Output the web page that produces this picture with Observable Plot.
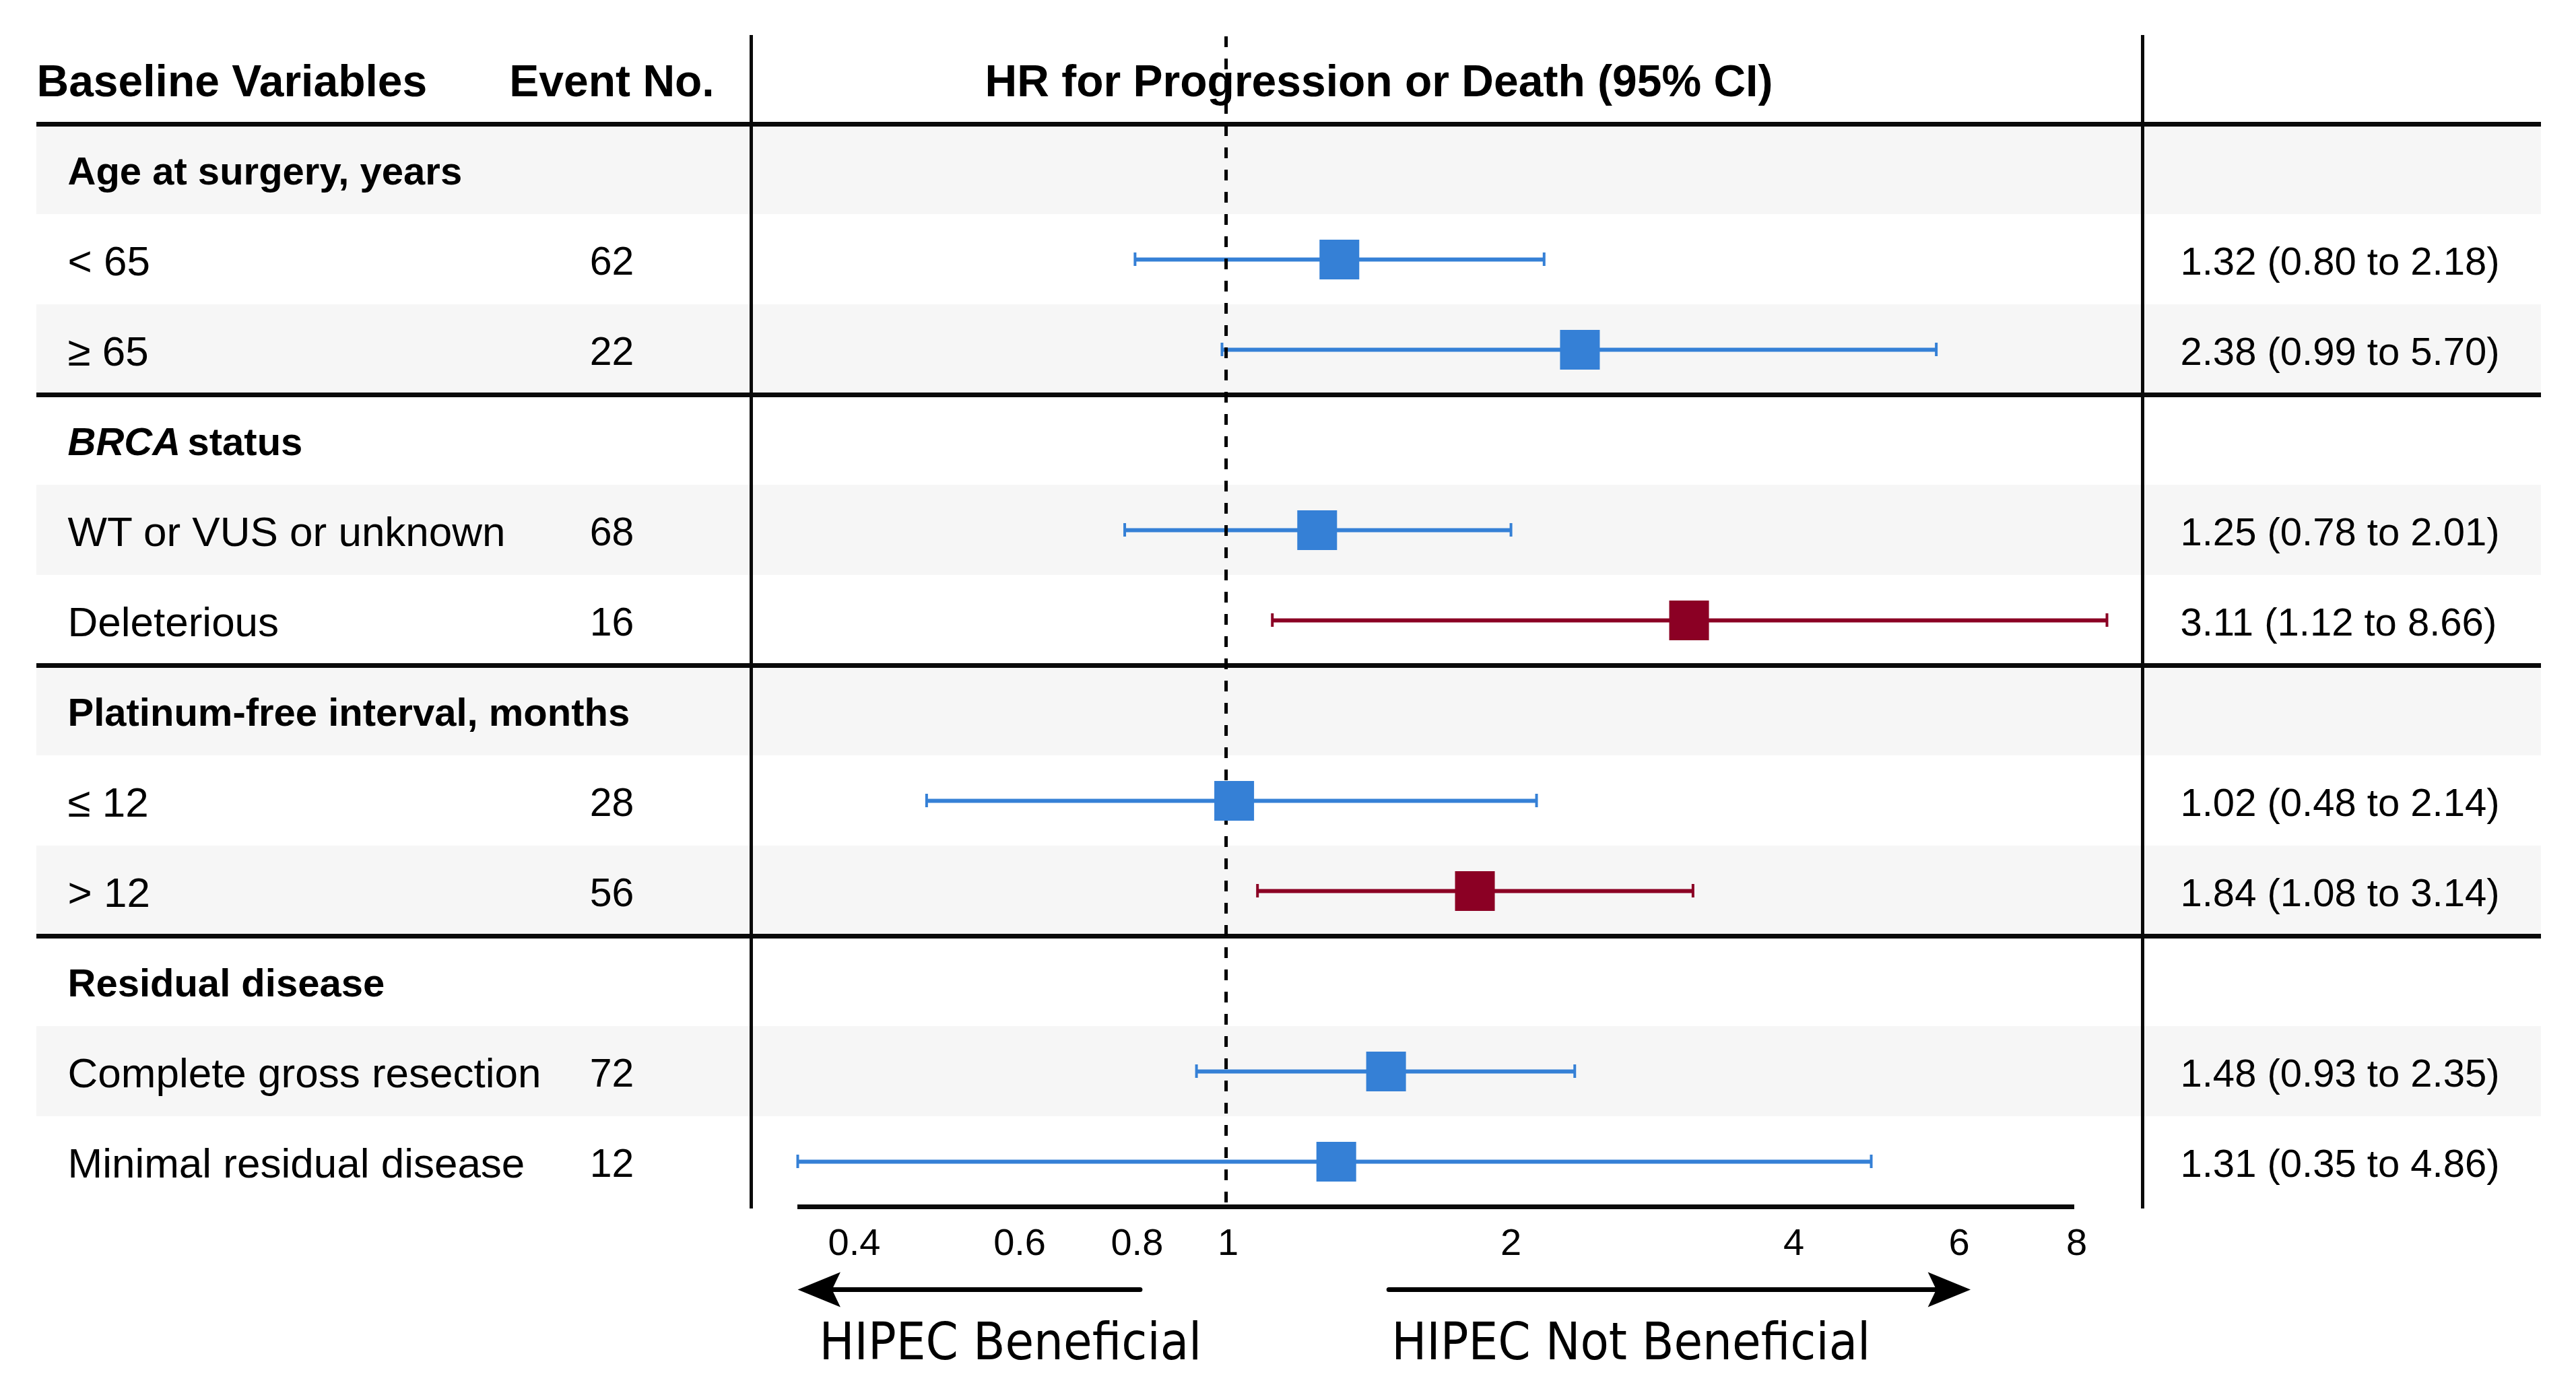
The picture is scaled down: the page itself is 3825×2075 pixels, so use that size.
<!DOCTYPE html>
<html>
<head>
<meta charset="utf-8">
<script src="https://cdn.jsdelivr.net/npm/d3@7"></script>
<script src="https://cdn.jsdelivr.net/npm/@observablehq/plot@0.6"></script>
<style>
  html, body { margin: 0; padding: 0; background: #fff; }
  #chart { width: 3825px; height: 2075px; }
  #chart svg { display: block; }
</style>
</head>
<body>
<div id="chart"></div>
<script>
// ---------------- data ----------------
const columnHeaders = ["Baseline Variables", "Event No.", "HR for Progression or Death (95% CI)"];
const sections = ["Age at surgery, years", "BRCA status", "Platinum-free interval, months", "Residual disease"];
const italicPrefix = {"BRCA status": "BRCA"};
const subgroups = ["< 65", "≥ 65", "WT or VUS or unknown", "Deleterious", "≤ 12", "> 12", "Complete gross resection", "Minimal residual disease"];
const subgroupSection = [0, 0, 1, 1, 2, 2, 3, 3];
const events = [62, 22, 68, 16, 28, 56, 72, 12];
const hr     = [1.32, 2.38, 1.25, 3.11, 1.02, 1.84, 1.48, 1.31];
const ciLow  = [0.80, 0.99, 0.78, 1.12, 0.48, 1.08, 0.93, 0.35];
const ciHigh = [2.18, 5.70, 2.01, 8.66, 2.14, 3.14, 2.35, 4.86];
const xDomain = [0.35, 8];
const xTicks = [0.4, 0.6, 0.8, 1, 2, 4, 6, 8];
const nullEffect = [1];
const arrowLabels = ["HIPEC Beneficial", "HIPEC Not Beneficial"];
const arrowFrom = [0.81, 1.49];
const arrowTo   = [0.35, 6.2];

// ---------------- layout / style ----------------
const W = 3825;
const FONT = "'Liberation Sans', Arial, Helvetica, sans-serif";
const NARROW = "'Liberation Sans Narrow', 'Arial Narrow', 'DejaVu Sans Condensed', sans-serif";
const BLUE = "#3580d6", RED = "#8b0024", GRAY = "#f6f6f6", INK = "#0a0a0a";
const L = {
  tableLeft: 54, tableRight: 3773,
  panelLeft: 1115, panelRight: 3181,
  top: 54, rowsTop: 50, rowsBottom: 1792,
  xRange: [1184, 3080],
  mainHeight: 1880, footHeight: 195
};
const insetL = -(L.panelLeft - L.tableLeft);
const insetR = -(L.tableRight - L.panelRight);

// ---------------- table rows ----------------
const rows = [];
let idx = 1;
sections.forEach((s, si) => {
  rows.push({kind: "section", label: s, y: idx++});
  subgroups.forEach((g, gi) => {
    if (subgroupSection[gi] === si) {
      rows.push({kind: "sub", label: g, events: events[gi], hr: hr[gi], lo: ciLow[gi], hi: ciHigh[gi], y: idx++});
    }
  });
});
const nRows = idx;
const subRows = rows.filter(r => r.kind === "sub");
const secRows = rows.filter(r => r.kind === "section");
const grayRows = rows.filter(r => r.y % 2 === 1);
const separators = secRows.map(r => r.y);
const yc = d => d.y + 0.5;
const colorOf = d => d.lo > 1 ? RED : BLUE;
const fmt = v => v.toFixed(2);
const TDY = 4;

const main = Plot.plot({
  width: W,
  height: L.mainHeight,
  marginLeft: L.panelLeft,
  marginRight: W - L.panelRight,
  marginTop: L.top,
  marginBottom: L.mainHeight - L.rowsBottom,
  style: {fontFamily: FONT, fontSize: "56px", background: "white", color: "black"},
  x: {type: "log", domain: xDomain, range: L.xRange, axis: null},
  y: {type: "linear", domain: [0, nRows], range: [L.rowsTop, L.rowsBottom], axis: null},
  marks: [
    // zebra bands
    Plot.rect(grayRows, {y1: "y", y2: d => d.y + 1, fill: GRAY, insetLeft: insetL, insetRight: insetR}),
    // section separators
    Plot.ruleY(separators, {y: d => d, stroke: INK, strokeWidth: 7, insetLeft: insetL, insetRight: insetR}),
    // panel borders
    Plot.frame({anchor: "left", stroke: INK, strokeWidth: 5}),
    Plot.frame({anchor: "right", stroke: INK, strokeWidth: 5}),
    // axis line
    Plot.ruleY([nRows], {y: d => d, x1: () => xDomain[0], x2: () => xDomain[1], stroke: INK, strokeWidth: 7}),
    // whiskers
    Plot.ruleY(subRows, {y: yc, x1: "lo", x2: "hi", stroke: colorOf, strokeWidth: 6}),
    Plot.ruleX(subRows, {x: "lo", y1: yc, y2: yc, insetTop: -10, insetBottom: -10, stroke: colorOf, strokeWidth: 4}),
    Plot.ruleX(subRows, {x: "hi", y1: yc, y2: yc, insetTop: -10, insetBottom: -10, stroke: colorOf, strokeWidth: 4}),
    // reference line
    Plot.ruleX(nullEffect, {x: d => d, stroke: "black", strokeWidth: 5, strokeDasharray: "16,17"}),
    // point estimates
    Plot.dot(subRows, {x: "hr", y: yc, symbol: "square", r: 33.3, fill: colorOf}),
    // column headers
    Plot.text([columnHeaders[0]], {frameAnchor: "left", y: () => 0.5, text: d => d, dx: L.tableLeft - L.panelLeft, dy: TDY, textAnchor: "start", fontWeight: "bold", fontSize: 66}),
    Plot.text([columnHeaders[1]], {frameAnchor: "left", y: () => 0.5, text: d => d, dx: 908 - L.panelLeft, dy: TDY, textAnchor: "middle", fontWeight: "bold", fontSize: 66}),
    Plot.text([columnHeaders[2]], {frameAnchor: "left", y: () => 0.5, text: d => d, dx: 2047 - L.panelLeft, dy: TDY, textAnchor: "middle", fontWeight: "bold", fontSize: 66}),
    // section titles
    Plot.text(secRows.filter(d => !italicPrefix[d.label]), {frameAnchor: "left", y: yc, text: "label", dx: 100 - L.panelLeft, dy: TDY, textAnchor: "start", fontWeight: "bold", fontSize: 58}),
    Plot.text(secRows.filter(d => italicPrefix[d.label]), {frameAnchor: "left", y: yc, text: d => italicPrefix[d.label], dx: 100 - L.panelLeft, dy: TDY, textAnchor: "start", fontWeight: "bold", fontStyle: "italic", fontSize: 58}),
    Plot.text(secRows.filter(d => italicPrefix[d.label]), {frameAnchor: "left", y: yc, text: d => d.label.slice(italicPrefix[d.label].length).trim(), dx: 278 - L.panelLeft, dy: TDY, textAnchor: "start", fontWeight: "bold", fontSize: 58}),
    // subgroup labels
    Plot.text(subRows, {frameAnchor: "left", y: yc, text: "label", dx: 100 - L.panelLeft, dy: TDY, textAnchor: "start", fontSize: 62}),
    Plot.text(subRows, {frameAnchor: "left", y: yc, text: d => String(d.events), dx: 908 - L.panelLeft, dy: TDY, textAnchor: "middle", fontSize: 59}),
    Plot.text(subRows, {frameAnchor: "right", y: yc, text: d => `${fmt(d.hr)} (${fmt(d.lo)} to ${fmt(d.hi)})`, dx: 3237 - L.panelRight, dy: TDY, textAnchor: "start", fontSize: 58}),
    // x tick labels
    Plot.text(xTicks, {x: d => d, frameAnchor: "bottom", text: d => String(d), lineAnchor: "top", dy: 32, dx: 3, textAnchor: "middle", fontSize: 56})
  ]
});

// ---------------- direction arrows ----------------
const arrowsData = arrowLabels.map((label, i) => ({label, from: arrowFrom[i], to: arrowTo[i]}));
const stealth = {
  draw(context, size) {
    const r = Math.sqrt(size / Math.PI);
    context.moveTo(0, 0);
    context.lineTo(-2.44 * r, -r);
    context.lineTo(-1.96 * r, 0);
    context.lineTo(-2.44 * r, r);
    context.closePath();
  }
};
const foot = Plot.plot({
  width: W,
  height: L.footHeight,
  marginLeft: L.panelLeft,
  marginRight: W - L.panelRight,
  marginTop: 0,
  marginBottom: 0,
  style: {fontFamily: FONT, background: "white", color: "black"},
  x: {type: "log", domain: xDomain, range: L.xRange, axis: null},
  y: {type: "point", domain: ["arrow", "label"], range: [35, 84], padding: 0, axis: null},
  marks: [
    Plot.arrow(arrowsData, {x1: "from", x2: "to", y1: () => "arrow", y2: () => "arrow", headLength: 0, insetEnd: 50, stroke: "black", strokeWidth: 7}),
    Plot.dot(arrowsData, {x: "to", y: () => "arrow", symbol: stealth, r: 26, rotate: d => d.to < d.from ? 180 : 0, fill: "black"}),
    Plot.text(arrowsData.filter(d => d.to < d.from), {x: "to", y: () => "label", text: "label", dx: 32, textAnchor: "start", lineAnchor: "top", fontFamily: NARROW, fontSize: 77}),
    Plot.text(arrowsData.filter(d => d.to > d.from), {x: "from", y: () => "label", text: "label", dx: 4, textAnchor: "start", lineAnchor: "top", fontFamily: NARROW, fontSize: 77})
  ]
});

const chart = document.getElementById("chart");
chart.appendChild(main);
chart.appendChild(foot);
</script>
</body>
</html>
